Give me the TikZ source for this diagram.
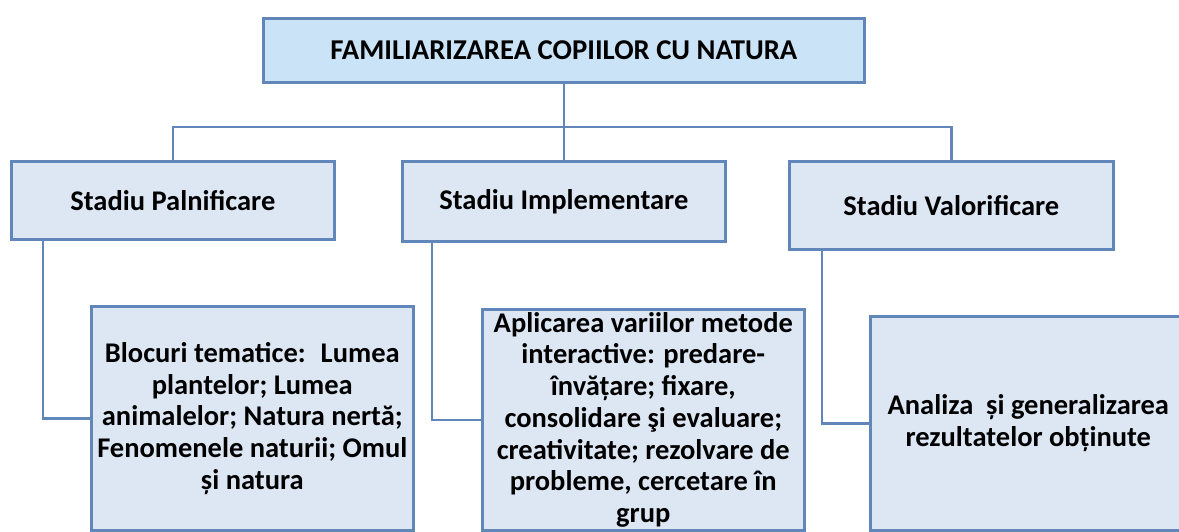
\documentclass[tikz,border=0pt]{standalone}
\usepackage{fontspec}
\setmainfont{Carlito}
\usepackage{tikz}

\definecolor{boxline}{RGB}{96,134,186}
\definecolor{boxfill}{RGB}{221,231,244}
\definecolor{topfill}{RGB}{202,227,247}

\begin{document}
\begin{tikzpicture}[x=1pt,y=-1pt,
        box/.style={draw=boxline,line width=2.6pt,fill=boxfill,inner sep=0pt,anchor=north west,align=center,font=\bfseries\fontsize{28.5}{31.7}\selectfont},
        link/.style={draw=boxline,line width=2.6pt}]
        \useasboundingbox (0,0) rectangle (1179,531);
        \node[box,fill=topfill,minimum width=601pt,minimum height=64pt,font=\bfseries\fontsize{28.7}{31}\selectfont] (top) at (262,17) {FAMILIARIZAREA COPIILOR CU NATURA};
        \node[box,minimum width=323pt,minimum height=78pt] (s1) at (10,160) {Stadiu Palnificare};
        \node[box,minimum width=323pt,minimum height=80pt] (s2) at (401,160) {Stadiu Implementare};
        \node[box,minimum width=324pt,minimum height=88pt] (s3) at (788,160) {Stadiu Valorificare};
        \node[box,minimum width=322pt,minimum height=224pt] (pa) at (90,305) {Blocuri tematice:~ Lumea\\ plantelor; Lumea\\ animalelor; Natura nertă;\\ Fenomenele naturii; Omul\\ și natura};
        \node[box,minimum width=322pt,minimum height=221pt] (pb) at (481,308) {Aplicarea variilor metode\\ interactive: predare-\\ învățare; fixare,\\ consolidare şi evaluare;\\ creativitate; rezolvare de\\ probleme, cercetare în\\ grup};
        \node[box,minimum width=316pt,minimum height=214pt] (pc) at (869,315) {Analiza~ și generalizarea\\ rezultatelor obținute};
        \coordinate (bar) at (562.5,127);
        \draw[link] (top.south) -- (s2.north);
        \draw[link] (s1.north) |- (bar) -| (s3.north);
        \draw[link] ([xshift=33pt]s1.south west) |- (pa.west);
        \draw[link] ([xshift=31pt]s2.south west) |- (pb.west);
        \draw[link] ([xshift=34pt]s3.south west) |- (pc.west);
    \end{tikzpicture}
\end{document}
